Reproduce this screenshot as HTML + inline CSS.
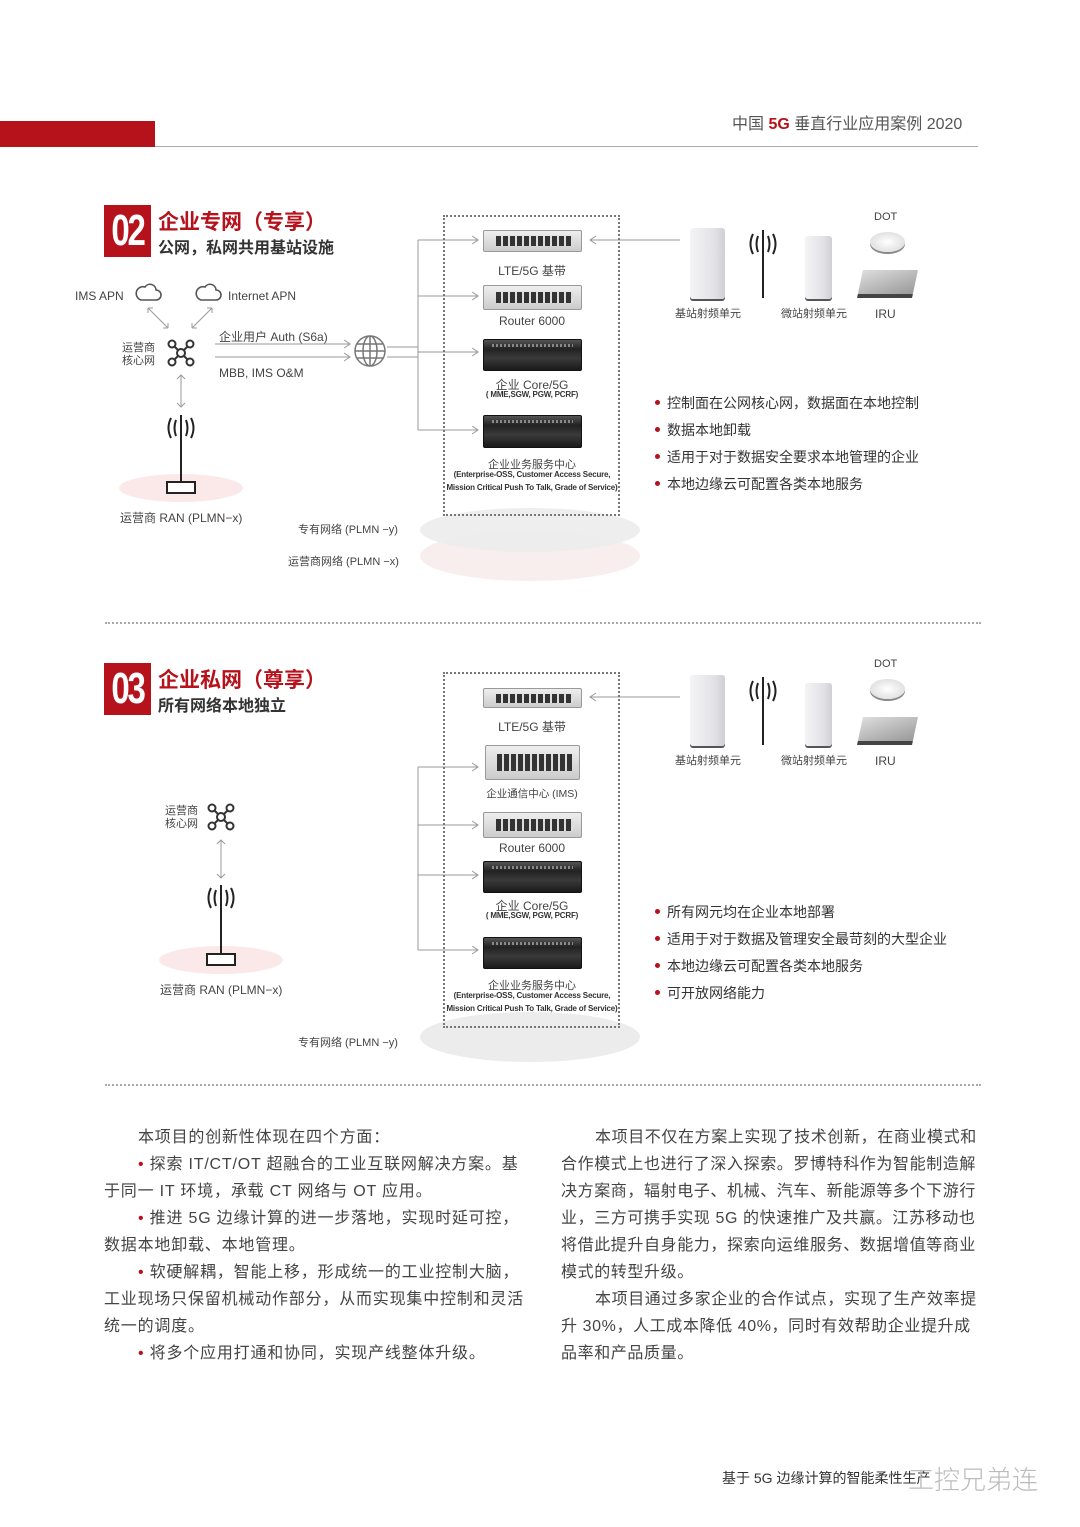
<!DOCTYPE html>
<html><head><meta charset="utf-8"><style>
*{margin:0;padding:0;box-sizing:border-box}
body{width:1080px;height:1527px;background:#fff;position:relative;overflow:hidden;font-family:"Liberation Sans","Noto Sans CJK SC",sans-serif;color:#444}
.a{position:absolute;white-space:nowrap}
.num{position:absolute;background:#b5121b;color:#fff;font-family:"Liberation Sans",sans-serif;font-weight:bold;font-size:44px;line-height:52px;text-align:center;letter-spacing:-3px;width:47px;height:52px}
.num span{display:inline-block;transform:scaleX(0.75)}
.t1{color:#b5121b;font-size:21px;font-weight:bold}
.t2{color:#333;font-size:16px;font-weight:bold}
.box{position:absolute;border:2px dotted #777;}
.rack{position:absolute;background:linear-gradient(#eee,#ccc);border:1px solid #999;border-radius:2px}
.rack::after{content:"";position:absolute;left:12%;right:8%;top:25%;bottom:25%;background:repeating-linear-gradient(90deg,#333 0 5px,#ddd 5px 7px)}
.srv{position:absolute;background:linear-gradient(#555,#222 30%,#3a3a3a 60%,#1a1a1a);border:1px solid #111;border-radius:2px}
.srv::after{content:"";position:absolute;left:8%;right:8%;top:12%;height:12%;background:repeating-linear-gradient(90deg,#888 0 2px,#333 2px 4px)}
.lbl{font-size:12px;color:#444;text-align:center;width:200px}
.sm{font-size:8px;color:#333;text-align:center;width:200px;font-weight:bold;letter-spacing:-0.2px}
.bul{font-size:14px;color:#333}
.bul::before{content:"";display:inline-block;width:5px;height:5px;border-radius:50%;background:#b5121b;margin-right:7px;vertical-align:middle;position:relative;top:-2px}
.p{font-size:16px;letter-spacing:0.8px;color:#444;line-height:27px}
.p div{text-indent:34px}
.hl{position:absolute;height:1px;background:#999}
.dots{position:absolute;border-top:2px dotted #aaa;height:0}
.unit{position:absolute;background:linear-gradient(90deg,#f4f4f6,#e2e2e6 70%,#cfcfd4);border-radius:3px;box-shadow:0 2px 0 #555}
</style></head><body>

<div class="a" style="left:0;top:121px;width:155px;height:26px;background:#b5121b"></div>
<div class="hl" style="left:155px;top:146px;width:823px;background:#aaa"></div>
<div class="a" style="left:732px;top:110px;font-size:16px;color:#555">中国 <b style="color:#b5121b">5G</b> 垂直行业应用案例 2020</div>

<!-- SECTION 02 -->
<div class="num" style="left:104px;top:205px"><span>02</span></div>
<div class="a t1" style="left:158px;top:206px">企业专网（专享）</div>
<div class="a t2" style="left:158px;top:234px">公网，私网共用基站设施</div>

<div class="a" style="left:75px;top:289px;font-size:12px">IMS APN</div>
<svg class="a" style="left:60px;top:280px" width="380" height="250" viewBox="60 280 380 250">
<g fill="none" stroke="#555" stroke-width="1.6">
<path d="M142 300 h14 a5 5 0 0 0 0-10 a6 6 0 0 0-11-3 a5 5 0 0 0-4 13z"/>
<path d="M202 300 h14 a5 5 0 0 0 0-10 a6 6 0 0 0-11-3 a5 5 0 0 0-4 13z"/>
</g>
<g stroke="#999" stroke-width="1" fill="none">
<path d="M148 308 L168 328 M148 308 v5 M148 308 h5 M168 328 v-5 M168 328 h-5"/>
<path d="M212 308 L192 328 M212 308 v5 M212 308 h-5 M192 328 v-5 M192 328 h5"/>
<path d="M215 344 H350 M344 340 L350 344 L344 348 M215 357 H350 M344 353 L350 357 L344 361"/>
<path d="M181 375 V407 M177 379 L181 375 L185 379 M177 403 L181 407 L185 403"/>
<path d="M387 347 H415 M387 357 H415"/>
</g>
<g stroke="#333" stroke-width="2" fill="#fff">
<line x1="172" y1="344" x2="190" y2="362"/><line x1="190" y1="344" x2="172" y2="362"/>
<circle cx="172" cy="344" r="3.5"/><circle cx="190" cy="344" r="3.5"/><circle cx="172" cy="362" r="3.5"/><circle cx="190" cy="362" r="3.5"/><circle cx="181" cy="353" r="4"/>
</g>
<g fill="none" stroke="#777" stroke-width="1.5">
<circle cx="370" cy="351" r="15"/><ellipse cx="370" cy="351" rx="7" ry="15"/><path d="M355 351 H385 M357 344 H383 M357 358 H383 M370 336 V366"/>
</g>
<ellipse cx="181" cy="488" rx="62" ry="14" fill="#fbe9ea"/>
<g stroke="#222" stroke-width="2" fill="none">
<path d="M181 415 V482"/><path d="M176 420 q-3 8 0 16 M186 420 q3 8 0 16 M171 418 q-5 10 0 20 M191 418 q5 10 0 20"/>
<rect x="167" y="482" width="28" height="11" fill="#fff"/>
</g>
</svg>
<div class="a" style="left:228px;top:289px;font-size:12px">Internet APN</div>
<div class="a" style="left:122px;top:342px;font-size:11px;line-height:13px">运营商<br>核心网</div>
<div class="a" style="left:219px;top:328px;font-size:12px">企业用户 Auth (S6a)</div>
<div class="a" style="left:219px;top:366px;font-size:12px">MBB, IMS O&amp;M</div>
<div class="a" style="left:120px;top:509px;font-size:12px">运营商 RAN (PLMN−x)</div>

<svg class="a" style="left:410px;top:200px" width="280" height="390" viewBox="410 200 280 390">
<ellipse cx="530" cy="556" rx="110" ry="25" fill="#f8eeee"/>
<ellipse cx="530" cy="530" rx="110" ry="22" fill="#ececec" opacity=".9"/>
<g stroke="#999" fill="none" stroke-width="1">
<path d="M418 240 V430 M418 240 H478 M418 296 H478 M418 352 H478 M418 430 H478"/>
<path d="M472 236 L478 240 L472 244 M472 292 L478 296 L472 300 M472 348 L478 352 L472 356 M472 426 L478 430 L472 434"/>
<path d="M410 347 H418 M410 357 H418"/>
<path d="M590 240 H680 M596 236 L590 240 L596 244"/>
</g>
</svg>
<div class="box" style="left:443px;top:215px;width:177px;height:301px"></div>
<div class="rack" style="left:483px;top:230px;width:99px;height:22px"></div>
<div class="a lbl" style="left:432px;top:262px">LTE/5G 基带</div>
<div class="rack" style="left:483px;top:285px;width:99px;height:25px"></div>
<div class="a lbl" style="left:432px;top:314px">Router 6000</div>
<div class="srv" style="left:483px;top:339px;width:99px;height:32px"></div>
<div class="a lbl" style="left:432px;top:376px">企业 Core/5G</div>
<div class="a sm" style="left:432px;top:390px">( MME,SGW, PGW, PCRF)</div>
<div class="srv" style="left:483px;top:415px;width:99px;height:33px"></div>
<div class="a lbl" style="left:432px;top:456px;font-size:11px">企业业务服务中心</div>
<div class="a sm" style="left:432px;top:470px">(Enterprise-OSS, Customer Access Secure,</div>
<div class="a sm" style="left:432px;top:483px">Mission Critical Push To Talk, Grade of Service)</div>
<div class="a" style="left:298px;top:521px;font-size:11px">专有网络 (PLMN −y)</div>
<div class="a" style="left:288px;top:553px;font-size:11px">运营商网络 (PLMN −x)</div>

<div class="unit" style="left:690px;top:228px;width:35px;height:71px"></div>
<svg class="a" style="left:745px;top:228px" width="36" height="72"><g stroke="#222" stroke-width="2" fill="none"><path d="M18 2V70"/><path d="M13 8q-3 8 0 16M23 8q3 8 0 16M8 6q-5 10 0 20M28 6q5 10 0 20"/></g></svg>
<div class="unit" style="left:805px;top:236px;width:27px;height:63px"></div>
<div class="a" style="left:874px;top:211px;font-size:11px">DOT</div>
<div class="a" style="left:870px;top:232px;width:35px;height:20px;border-radius:50%;background:radial-gradient(#fff,#d5d5d5);box-shadow:0 2px 0 #888"></div>
<div class="a" style="left:860px;top:270px;width:55px;height:28px;background:linear-gradient(160deg,#ddd,#999);transform:skewX(-12deg);border-bottom:4px solid #444"></div>
<div class="a" style="left:675px;top:305px;font-size:11px">基站射频单元</div>
<div class="a" style="left:781px;top:305px;font-size:11px">微站射频单元</div>
<div class="a" style="left:875px;top:307px;font-size:12px">IRU</div>

<div class="a bul" style="left:655px;top:393px">控制面在公网核心网，数据面在本地控制</div>
<div class="a bul" style="left:655px;top:420px">数据本地卸载</div>
<div class="a bul" style="left:655px;top:447px">适用于对于数据安全要求本地管理的企业</div>
<div class="a bul" style="left:655px;top:474px">本地边缘云可配置各类本地服务</div>

<div class="dots" style="left:105px;top:622px;width:876px"></div>

<!-- SECTION 03 -->
<div class="num" style="left:104px;top:663px"><span>03</span></div>
<div class="a t1" style="left:158px;top:664px">企业私网（尊享）</div>
<div class="a t2" style="left:158px;top:692px">所有网络本地独立</div>

<div class="a" style="left:165px;top:805px;font-size:11px;line-height:13px">运营商<br>核心网</div>
<svg class="a" style="left:150px;top:795px" width="150" height="180" viewBox="150 795 150 180">
<g stroke="#333" stroke-width="2" fill="#fff">
<line x1="212" y1="808" x2="230" y2="826"/><line x1="230" y1="808" x2="212" y2="826"/>
<circle cx="212" cy="808" r="3.5"/><circle cx="230" cy="808" r="3.5"/><circle cx="212" cy="826" r="3.5"/><circle cx="230" cy="826" r="3.5"/><circle cx="221" cy="817" r="4"/>
</g>
<path d="M221 840 V878 M217 844 L221 840 L225 844 M217 874 L221 878 L225 874" stroke="#999" fill="none"/>
<ellipse cx="221" cy="960" rx="62" ry="14" fill="#fbe9ea"/>
<g stroke="#222" stroke-width="2" fill="none">
<path d="M221 885 V954"/><path d="M216 890q-3 8 0 16M226 890q3 8 0 16M211 888q-5 10 0 20M231 888q5 10 0 20"/>
<rect x="207" y="954" width="28" height="11" fill="#fff"/>
</g>
</svg>
<div class="a" style="left:160px;top:981px;font-size:12px">运营商 RAN (PLMN−x)</div>

<svg class="a" style="left:410px;top:660px" width="280" height="410" viewBox="410 660 280 410">
<ellipse cx="530" cy="1037" rx="110" ry="25" fill="#ececec"/>
<g stroke="#999" fill="none" stroke-width="1">
<path d="M418 767 V950 M418 767 H478 M418 825 H478 M418 875 H478 M418 950 H478"/>
<path d="M472 763 L478 767 L472 771 M472 821 L478 825 L472 829 M472 871 L478 875 L472 879 M472 946 L478 950 L472 954"/>
<path d="M590 697 H680 M596 693 L590 697 L596 701"/>
</g>
</svg>
<div class="box" style="left:443px;top:672px;width:177px;height:356px"></div>
<div class="rack" style="left:483px;top:688px;width:99px;height:20px"></div>
<div class="a lbl" style="left:432px;top:718px">LTE/5G 基带</div>
<div class="rack" style="left:485px;top:745px;width:95px;height:35px"></div>
<div class="a lbl" style="left:432px;top:786px;font-size:10.5px">企业通信中心 (IMS)</div>
<div class="rack" style="left:483px;top:812px;width:99px;height:26px"></div>
<div class="a lbl" style="left:432px;top:841px">Router 6000</div>
<div class="srv" style="left:483px;top:861px;width:99px;height:32px"></div>
<div class="a lbl" style="left:432px;top:897px">企业 Core/5G</div>
<div class="a sm" style="left:432px;top:911px">( MME,SGW, PGW, PCRF)</div>
<div class="srv" style="left:483px;top:937px;width:99px;height:32px"></div>
<div class="a lbl" style="left:432px;top:977px;font-size:11px">企业业务服务中心</div>
<div class="a sm" style="left:432px;top:991px">(Enterprise-OSS, Customer Access Secure,</div>
<div class="a sm" style="left:432px;top:1004px">Mission Critical Push To Talk, Grade of Service)</div>
<div class="a" style="left:298px;top:1034px;font-size:11px">专有网络 (PLMN −y)</div>

<div class="unit" style="left:690px;top:675px;width:35px;height:71px"></div>
<svg class="a" style="left:745px;top:675px" width="36" height="72"><g stroke="#222" stroke-width="2" fill="none"><path d="M18 2V70"/><path d="M13 8q-3 8 0 16M23 8q3 8 0 16M8 6q-5 10 0 20M28 6q5 10 0 20"/></g></svg>
<div class="unit" style="left:805px;top:683px;width:27px;height:63px"></div>
<div class="a" style="left:874px;top:658px;font-size:11px">DOT</div>
<div class="a" style="left:870px;top:679px;width:35px;height:20px;border-radius:50%;background:radial-gradient(#fff,#d5d5d5);box-shadow:0 2px 0 #888"></div>
<div class="a" style="left:860px;top:717px;width:55px;height:28px;background:linear-gradient(160deg,#ddd,#999);transform:skewX(-12deg);border-bottom:4px solid #444"></div>
<div class="a" style="left:675px;top:752px;font-size:11px">基站射频单元</div>
<div class="a" style="left:781px;top:752px;font-size:11px">微站射频单元</div>
<div class="a" style="left:875px;top:754px;font-size:12px">IRU</div>

<div class="a bul" style="left:655px;top:902px">所有网元均在企业本地部署</div>
<div class="a bul" style="left:655px;top:929px">适用于对于数据及管理安全最苛刻的大型企业</div>
<div class="a bul" style="left:655px;top:956px">本地边缘云可配置各类本地服务</div>
<div class="a bul" style="left:655px;top:983px">可开放网络能力</div>

<div class="dots" style="left:105px;top:1084px;width:876px"></div>

<div class="a p" style="left:104px;top:1124px;width:420px;white-space:normal">
<div>本项目的创新性体现在四个方面：</div>
<div><span style="color:#b5121b">•</span> 探索 IT/CT/OT 超融合的工业互联网解决方案。基于同一 IT 环境，承载 CT 网络与 OT 应用。</div>
<div><span style="color:#b5121b">•</span> 推进 5G 边缘计算的进一步落地，实现时延可控，数据本地卸载、本地管理。</div>
<div><span style="color:#b5121b">•</span> 软硬解耦，智能上移，形成统一的工业控制大脑，工业现场只保留机械动作部分，从而实现集中控制和灵活统一的调度。</div>
<div><span style="color:#b5121b">•</span> 将多个应用打通和协同，实现产线整体升级。</div>
</div>
<div class="a p" style="left:561px;top:1124px;width:422px;white-space:normal;letter-spacing:0.6px">
<div>本项目不仅在方案上实现了技术创新，在商业模式和合作模式上也进行了深入探索。罗博特科作为智能制造解决方案商，辐射电子、机械、汽车、新能源等多个下游行业，三方可携手实现 5G 的快速推广及共赢。江苏移动也将借此提升自身能力，探索向运维服务、数据增值等商业模式的转型升级。</div>
<div>本项目通过多家企业的合作试点，实现了生产效率提升 30%，人工成本降低 40%，同时有效帮助企业提升成品率和产品质量。</div>
</div>

<div class="a" style="left:722px;top:1468px;font-size:14px;color:#333">基于 5G 边缘计算的智能柔性生产</div>
<div class="a" style="left:908px;top:1460px;font-size:26px;color:#bbb;font-family:'Noto Sans CJK SC',sans-serif;font-weight:300">工控兄弟连</div>
</body></html>
